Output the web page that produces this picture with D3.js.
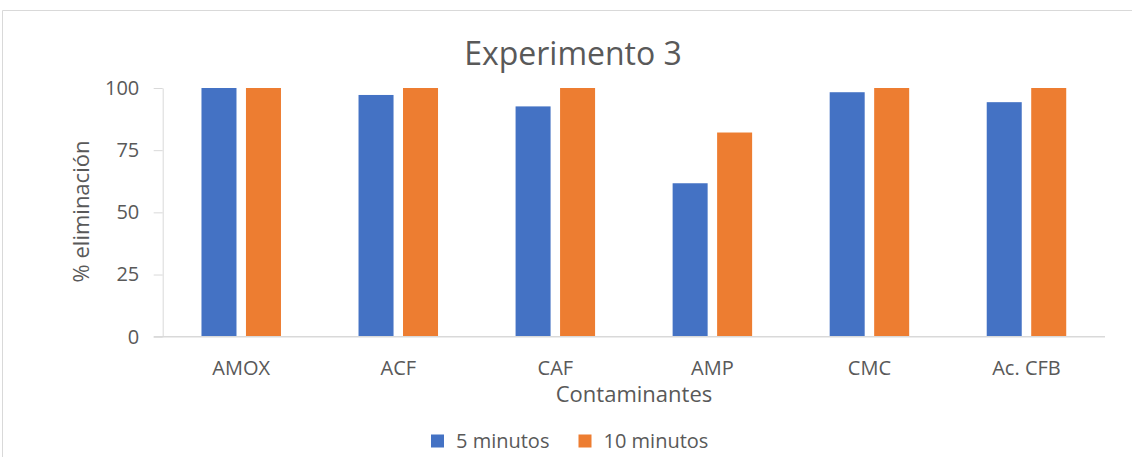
<!DOCTYPE html>
<html>
<head>
<meta charset="utf-8">
<script src="https://cdn.jsdelivr.net/npm/d3@7"></script>
<style>
  html, body { margin: 0; padding: 0; background: #fff; }
  svg { display: block; }
  text { font-family: "Open Sans", "Noto Sans", "Liberation Sans", sans-serif; fill: #595959; }
</style>
</head>
<body>
<script>
// Contaminant categories and removal percentages per contact time
const categories = ["AMOX", "ACF", "CAF", "AMP", "CMC", "Ac. CFB"];
const seriesNames = ["5 minutos", "10 minutos"];
const values5min = [100, 97.2, 92.6, 61.7, 98.3, 94.3];
const values10min = [100, 100, 100, 82.1, 100, 100];
const yTicks = [0, 25, 50, 75, 100];
const colors = ["#4472C4", "#ED7D31"];

const W = 1132, H = 457;
const plot = { left: 162.7, right: 1105, top: 88, bottom: 336.7 };
const FONT = "'Open Sans', 'Noto Sans', sans-serif";

const svg = d3.select("body").append("svg")
  .attr("width", W).attr("height", H)
  .attr("viewBox", `0 0 ${W} ${H}`);

// Chart frame (top and left edges fall inside the view)
svg.append("path")
  .attr("d", `M2.5,${H}V10.5H${W}`)
  .attr("fill", "none").attr("stroke", "#d9d9d9").attr("stroke-width", 1);

const x0 = d3.scaleBand().domain(categories).range([plot.left, plot.right]).padding(0);
const innerWidth = 79.5;
const x1 = d3.scaleBand().domain(seriesNames).range([0, innerWidth]).paddingInner(0.213).paddingOuter(0);
const y = d3.scaleLinear().domain([0, 100]).range([plot.bottom, plot.top]);

// Y axis: line, outward ticks, labels
const yAxis = d3.axisLeft(y).tickValues(yTicks).tickSize(9).tickPadding(14.4).tickSizeOuter(0);
const gy = svg.append("g").attr("transform", `translate(${plot.left},0)`).call(yAxis);
gy.select(".domain").attr("stroke", "#d9d9d9");
gy.selectAll(".tick line").attr("stroke", "#d9d9d9");
gy.selectAll(".tick text").attr("font-size", 20).attr("font-family", FONT).style("fill", "#595959");

// Bars
const rows = categories.map((c, i) => ({ cat: c, vals: [values5min[i], values10min[i]] }));
const groups = svg.append("g").selectAll("g").data(rows).join("g")
  .attr("transform", d => `translate(${x0(d.cat) + x0.bandwidth() / 2 - innerWidth / 2},0)`);
groups.selectAll("rect")
  .data(d => d.vals.map((v, j) => ({ s: seriesNames[j], v, j })))
  .join("rect")
  .attr("x", d => x1(d.s))
  .attr("width", x1.bandwidth())
  .attr("y", d => y(d.v))
  .attr("height", d => y(0) - y(d.v))
  .attr("fill", d => colors[d.j]);

// X axis baseline and category labels
const xAxis = d3.axisBottom(x0).tickSize(0);
const gx = svg.append("g").attr("transform", `translate(0,${plot.bottom})`).call(xAxis);
gx.select(".domain").attr("stroke", "#d9d9d9").attr("stroke-width", 1.5)
  .attr("d", `M${plot.left - 9},0H${plot.right}`);
gx.selectAll(".tick text").attr("font-size", 20).attr("font-family", FONT)
  .attr("dy", null).attr("y", 38.3).style("fill", "#595959");

// Title
svg.append("text").attr("x", 573).attr("y", 65).attr("text-anchor", "middle")
  .attr("font-size", 32).text("Experimento 3");

// Axis titles
svg.append("text").attr("x", 634).attr("y", 402).attr("text-anchor", "middle")
  .attr("font-size", 22).text("Contaminantes");
svg.append("text").attr("transform", "translate(89,211.5) rotate(-90)")
  .attr("text-anchor", "middle").attr("font-size", 22).text("% eliminación");

// Legend
const legendItems = [
  { name: seriesNames[0], color: colors[0], x: 431 },
  { name: seriesNames[1], color: colors[1], x: 578.5 }
];
const lg = svg.append("g").selectAll("g").data(legendItems).join("g")
  .attr("transform", d => `translate(${d.x},434.5)`);
lg.append("rect").attr("width", 13).attr("height", 13).attr("fill", d => d.color);
lg.append("text").attr("x", 25).attr("y", 13.5).attr("font-size", 20).text(d => d.name);
</script>
</body>
</html>
